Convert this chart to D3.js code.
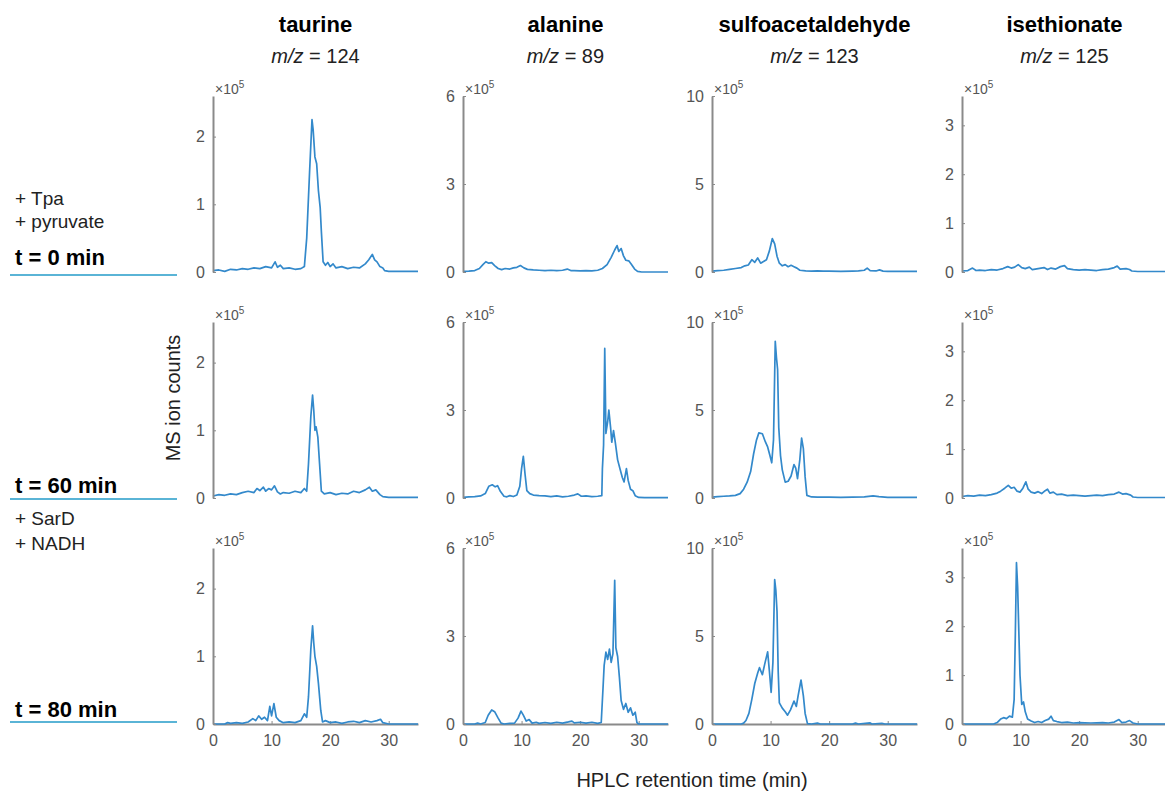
<!DOCTYPE html>
<html>
<head>
<meta charset="utf-8">
<script src="https://cdn.jsdelivr.net/npm/d3@7"></script>
<style>
  body { margin: 0; background: #fff; }
  svg { font-family: "Liberation Sans", Arial, sans-serif; }
  .tick text { fill: #555; font-size: 16px; }
</style>
</head>
<body>
<script>
// retention time (min), ion counts (x10^5)
var taurine0 = [[0,0.02],[1,0.03],[2,0.01],[3,0.04],[4,0.03],[5,0.05],[6,0.04],[7,0.06],[8,0.05],[9,0.08],[10,0.06],[10.6,0.15],[11,0.07],[11.5,0.10],[12,0.05],[13,0.06],[14,0.04],[15,0.05],[15.6,0.08],[16,0.5],[16.5,1.5],[16.9,2.25],[17.1,2.1],[17.4,1.7],[17.7,1.6],[18.0,1.2],[18.3,0.95],[18.5,0.6],[18.8,0.15],[19.2,0.1],[19.6,0.14],[20,0.08],[20.5,0.12],[21,0.06],[22,0.08],[23,0.05],[24,0.07],[25,0.06],[26,0.12],[26.6,0.18],[27.2,0.26],[27.6,0.18],[28,0.15],[28.5,0.08],[29,0.06],[29.3,0.02],[30,0.01],[35,0.01]];
var taurine60 = [[0,0.03],[1,0.05],[2,0.04],[3,0.06],[4,0.05],[5,0.08],[6,0.10],[7,0.08],[7.5,0.14],[8,0.11],[8.6,0.16],[9,0.10],[9.5,0.14],[10,0.12],[10.5,0.18],[11,0.09],[11.5,0.06],[12,0.08],[13,0.07],[14,0.10],[15,0.08],[15.6,0.14],[16,0.1],[16.3,0.5],[16.7,1.2],[17.0,1.52],[17.2,1.3],[17.4,1.0],[17.6,1.05],[17.9,0.9],[18.2,0.5],[18.5,0.1],[19,0.06],[20,0.08],[21,0.05],[22,0.07],[23,0.06],[24,0.1],[25,0.08],[26,0.12],[26.7,0.16],[27.2,0.1],[27.8,0.12],[28.5,0.05],[29,0.02],[30,0.01],[35,0.01]];
var taurine80 = [[0,0],[2,0],[2.5,0.02],[3,0.01],[4,0.02],[5,0.01],[6,0.03],[6.8,0.08],[7.3,0.05],[7.8,0.12],[8.3,0.07],[8.8,0.1],[9.3,0.05],[9.7,0.26],[10,0.12],[10.4,0.3],[10.8,0.1],[11.3,0.05],[12,0.02],[13,0.03],[14,0.02],[15,0.05],[15.6,0.15],[16,0.1],[16.3,0.4],[16.7,1.1],[17.0,1.45],[17.2,1.2],[17.4,1.0],[17.7,0.85],[18.0,0.6],[18.4,0.2],[18.7,0.03],[19.2,0.05],[20,0.02],[21,0.03],[22,0.01],[23,0.03],[24,0.04],[25,0.02],[26,0.05],[27,0.03],[28,0.05],[28.6,0.07],[29,0.02],[30,0],[35,0]];

var alanine0 = [[0,0.02],[1,0.03],[2,0.05],[2.8,0.12],[3.4,0.25],[3.9,0.35],[4.4,0.3],[4.9,0.32],[5.4,0.22],[6,0.12],[6.6,0.08],[7.2,0.12],[8,0.1],[8.6,0.14],[9.2,0.16],[9.8,0.22],[10.4,0.14],[11,0.09],[12,0.07],[13,0.06],[14,0.05],[15,0.06],[16,0.05],[17,0.06],[17.8,0.1],[18.4,0.05],[19,0.05],[20,0.04],[21,0.05],[22,0.04],[23,0.06],[23.8,0.12],[24.6,0.25],[25.3,0.5],[25.9,0.75],[26.3,0.9],[26.6,0.7],[27,0.8],[27.4,0.55],[27.8,0.4],[28.3,0.38],[28.8,0.25],[29.3,0.1],[29.8,0.02],[30.5,0],[35,0]];
var alanine60 = [[0,0.02],[1,0.04],[2,0.05],[3,0.07],[3.8,0.15],[4.4,0.4],[5.0,0.45],[5.5,0.38],[5.9,0.42],[6.4,0.22],[7.0,0.06],[7.5,0.04],[8,0.08],[8.6,0.05],[9.2,0.1],[9.7,0.4],[10.0,1.0],[10.3,1.42],[10.6,0.8],[10.9,0.25],[11.4,0.15],[12,0.1],[13,0.08],[14,0.07],[15,0.05],[16,0.07],[17,0.04],[18,0.06],[19,0.1],[19.6,0.14],[20.2,0.06],[21,0.07],[22,0.05],[23,0.06],[23.7,0.08],[23.8,1.0],[24.0,1.8],[24.2,5.1],[24.4,2.2],[24.7,2.6],[24.9,3.0],[25.2,2.4],[25.4,1.9],[25.7,2.3],[26.0,1.9],[26.4,1.3],[26.8,1.0],[27.2,0.7],[27.5,0.55],[27.9,1.0],[28.2,0.6],[28.6,0.3],[29.0,0.25],[29.4,0.08],[30,0.02],[31,0.01],[35,0.01]];
var alanine80 = [[0,0],[2,0],[2.5,0.03],[3,0],[3.8,0.05],[4.3,0.3],[4.9,0.48],[5.4,0.42],[6.0,0.2],[6.5,0.03],[7,0],[8,0.02],[8.8,0.03],[9.4,0.2],[9.9,0.44],[10.3,0.3],[10.8,0.1],[11.3,0.15],[11.8,0.03],[12.5,0.06],[13,0.02],[14,0.05],[15,0.02],[16,0.06],[17,0.03],[18,0.07],[18.6,0.1],[19,0.04],[20,0.06],[21,0.03],[22,0.06],[23,0.02],[23.6,0.05],[23.9,1.2],[24.1,2.0],[24.4,2.45],[24.7,2.2],[25.0,2.55],[25.3,2.1],[25.6,2.4],[25.9,4.9],[26.1,2.6],[26.4,2.3],[26.7,1.6],[27.0,0.8],[27.4,0.5],[27.8,0.7],[28.2,0.4],[28.6,0.55],[29.0,0.3],[29.4,0.4],[29.7,0.05],[30,0],[35,0]];

var sulfo0 = [[0,0.05],[1,0.08],[2,0.1],[3,0.15],[4,0.2],[5,0.25],[5.6,0.35],[6.2,0.4],[6.8,0.7],[7.3,0.55],[7.8,0.8],[8.3,0.5],[8.8,0.6],[9.3,0.7],[9.8,1.2],[10.3,1.9],[10.7,1.6],[11.1,0.9],[11.5,0.5],[12,0.35],[12.5,0.42],[13,0.3],[13.5,0.38],[14,0.3],[14.5,0.22],[15,0.1],[16,0.06],[17,0.05],[18,0.06],[19,0.05],[20,0.05],[22,0.04],[24,0.05],[25,0.06],[26,0.1],[26.5,0.22],[27,0.08],[28,0.06],[28.6,0.12],[29.2,0.05],[30,0.03],[35,0.03]];
var sulfo60 = [[0,0.05],[1,0.08],[2,0.1],[3,0.12],[4,0.15],[4.8,0.25],[5.4,0.5],[6,0.9],[6.6,1.5],[7.1,2.5],[7.6,3.3],[8.0,3.7],[8.6,3.65],[9.1,3.2],[9.5,2.9],[9.9,2.4],[10.2,2.0],[10.5,3.3],[10.8,8.9],[11.0,8.0],[11.2,7.3],[11.4,4.0],[11.7,2.4],[12.0,1.6],[12.5,0.9],[13.0,0.95],[13.5,1.25],[14.0,1.9],[14.3,1.7],[14.6,1.1],[15.0,2.2],[15.3,3.4],[15.6,2.8],[15.9,1.2],[16.2,0.15],[17,0.06],[18,0.05],[20,0.05],[22,0.04],[24,0.05],[26,0.06],[27.5,0.12],[28.5,0.08],[30,0.04],[35,0.04]];
var sulfo80 = [[0,0],[5,0],[5.4,0.05],[5.8,0.2],[6.3,0.6],[6.8,1.4],[7.3,2.3],[7.8,2.9],[8.1,3.2],[8.6,2.8],[9.0,3.4],[9.5,4.1],[9.8,3.0],[10.1,1.8],[10.4,3.5],[10.7,8.2],[10.9,7.6],[11.1,6.4],[11.3,3.0],[11.5,1.2],[12.0,0.9],[12.5,0.7],[12.9,0.5],[13.4,0.8],[14.0,1.3],[14.4,1.0],[14.7,1.6],[15.2,2.5],[15.6,1.6],[15.9,0.6],[16.3,0.02],[17,0],[18,0.05],[18.5,0],[24,0],[24.5,0.05],[25,0],[27,0.06],[27.3,0],[29,0.04],[29.5,0],[35,0]];

var iseth0 = [[0,0.02],[1,0.03],[1.8,0.08],[2.4,0.03],[3,0.04],[4,0.03],[5,0.05],[6,0.04],[7,0.07],[7.8,0.11],[8.4,0.08],[9.0,0.1],[9.6,0.15],[10.2,0.09],[10.8,0.07],[11.5,0.1],[12,0.05],[13,0.07],[14,0.09],[14.6,0.05],[15.2,0.08],[16,0.06],[16.8,0.11],[17.5,0.13],[18,0.07],[19,0.05],[20,0.04],[21,0.05],[22,0.04],[23,0.03],[24,0.05],[25,0.06],[26,0.09],[26.5,0.12],[27,0.06],[28,0.07],[28.6,0.05],[29,0.02],[30,0.01],[35,0.01]];
var iseth60 = [[0,0.03],[1,0.05],[2,0.04],[3,0.06],[4,0.05],[5,0.07],[6,0.1],[6.6,0.14],[7.3,0.2],[7.9,0.26],[8.4,0.2],[8.9,0.22],[9.4,0.14],[9.9,0.12],[10.4,0.2],[10.9,0.33],[11.3,0.18],[11.8,0.12],[12.4,0.1],[13,0.13],[13.6,0.09],[14.2,0.15],[14.6,0.18],[15.0,0.1],[15.6,0.12],[16.2,0.07],[17,0.08],[18,0.05],[19,0.06],[20,0.05],[21,0.04],[22,0.05],[23,0.06],[24,0.05],[25,0.07],[26,0.08],[26.8,0.12],[27.4,0.08],[28,0.09],[28.8,0.06],[29.2,0.02],[30,0.01],[35,0.01]];
var iseth80 = [[0,0],[5.4,0],[6,0.03],[6.6,0.1],[7.1,0.13],[7.6,0.11],[8.1,0.16],[8.6,0.14],[8.9,0.5],[9.1,1.8],[9.3,3.3],[9.5,2.8],[9.7,1.9],[9.9,1.0],[10.2,0.4],[10.5,0.45],[10.8,0.25],[11.2,0.1],[11.8,0.06],[12.4,0.03],[13,0.05],[13.6,0.03],[14.2,0.07],[14.8,0.1],[15.2,0.16],[15.6,0.07],[16.2,0.05],[17,0.03],[18,0.04],[19,0.02],[20,0.03],[22,0.02],[24,0.03],[25,0.02],[26,0.04],[26.8,0.09],[27.3,0.03],[28,0.04],[28.6,0.07],[29.2,0.02],[30,0],[35,0]];

var compounds = ["taurine", "alanine", "sulfoacetaldehyde", "isethionate"];
var mzValues = [124, 89, 123, 125];
var yMax = [2.6, 6, 10, 3.6];
var yTicks = [[0, 1, 2], [0, 3, 6], [0, 5, 10], [0, 1, 2, 3]];
var xTicks = [0, 10, 20, 30];
var timeLabels = ["t = 0 min", "t = 60 min", "t = 80 min"];
var traces = [
  [taurine0, alanine0, sulfo0, iseth0],
  [taurine60, alanine60, sulfo60, iseth60],
  [taurine80, alanine80, sulfo80, iseth80]
];

var width = 1165, height = 796;
var colX = [213, 463, 712, 962];   // left edge of each column
var rowY = [272, 498, 724];        // baseline of each row
var plotW = 205, plotH = 176;
var axisGrey = "#8a8a8a";
var lineBlue = "#3389cb";
var cyan = "#5ab4d6";

var svg = d3.select("body").append("svg")
    .attr("width", width)
    .attr("height", height);

// column titles
compounds.forEach(function(c, i){
  var cx = colX[i] + plotW / 2;
  svg.append("text")
    .attr("x", cx).attr("y", 32)
    .attr("text-anchor", "middle")
    .style("font-weight", "bold").style("font-size", "22px")
    .text(c);
  var t = svg.append("text")
    .attr("x", cx).attr("y", 63)
    .attr("text-anchor", "middle")
    .style("font-size", "20px").style("fill", "#222");
  t.append("tspan").style("font-style", "italic").text("m/z");
  t.append("tspan").text(" = " + mzValues[i]);
});

// left side labels
var leftLabels = [
  {text: "+ Tpa", y: 205}, {text: "+ pyruvate", y: 228},
  {text: "+ SarD", y: 525}, {text: "+ NADH", y: 550}
];
svg.selectAll(".cond").data(leftLabels).enter().append("text")
  .attr("class", "cond")
  .attr("x", 15).attr("y", function(d){ return d.y; })
  .style("font-size", "19px").style("fill", "#222")
  .text(function(d){ return d.text; });

var timeY = [265, 493, 717];
var ruleY = [275, 499, 722];
timeLabels.forEach(function(t, r){
  svg.append("text")
    .attr("x", 15).attr("y", timeY[r])
    .style("font-weight", "bold").style("font-size", "22px")
    .text(t);
  svg.append("line")
    .attr("x1", 10).attr("x2", 177)
    .attr("y1", ruleY[r]).attr("y2", ruleY[r])
    .attr("stroke", cyan).attr("stroke-width", 2);
});

// panels
traces.forEach(function(row, r){
  row.forEach(function(data, c){
    var g = svg.append("g").attr("transform", "translate(" + colX[c] + "," + (rowY[r] - plotH) + ")");
    var x = d3.scaleLinear().domain([0, 35]).range([0, plotW]);
    var y = d3.scaleLinear().domain([0, yMax[c]]).range([plotH, 0]);

    var line = d3.line().x(function(d){ return x(d[0]); }).y(function(d){ return y(d[1]); });

    if (r == 2) {
      var xa = g.append("g").attr("transform", "translate(0," + plotH + ")")
        .call(d3.axisBottom(x).tickValues(xTicks).tickFormat(d3.format("d"))
          .tickSizeInner(-3).tickSizeOuter(0).tickPadding(11));
      xa.select(".domain").attr("stroke", axisGrey).attr("stroke-width", 2);
      xa.selectAll(".tick line").attr("stroke", axisGrey);
    }

    g.append("path")
      .datum(data)
      .attr("d", line)
      .attr("fill", "none")
      .attr("stroke", lineBlue)
      .attr("stroke-width", 1.7)
      .attr("stroke-linejoin", "round");

    var ya = g.append("g")
      .call(d3.axisLeft(y).tickValues(yTicks[c]).tickFormat(d3.format("d"))
        .tickSizeInner(-3).tickSizeOuter(0).tickPadding(8));
    ya.select(".domain").attr("stroke", axisGrey).attr("stroke-width", 2);
    ya.selectAll(".tick line").attr("stroke", axisGrey);

    var exp = g.append("text")
      .attr("x", 2).attr("y", -2)
      .style("font-size", "14px").style("fill", "#555");
    exp.append("tspan").text("\u00d710");
    exp.append("tspan").attr("dy", -6).style("font-size", "10px").text("5");
  });
});

// shared axis titles
svg.append("text")
  .attr("transform", "translate(180,398) rotate(-90)")
  .attr("text-anchor", "middle")
  .style("font-size", "20px").style("fill", "#222")
  .text("MS ion counts");

svg.append("text")
  .attr("x", 692).attr("y", 787)
  .attr("text-anchor", "middle")
  .style("font-size", "20px").style("fill", "#222")
  .text("HPLC retention time (min)");
</script>
</body>
</html>
